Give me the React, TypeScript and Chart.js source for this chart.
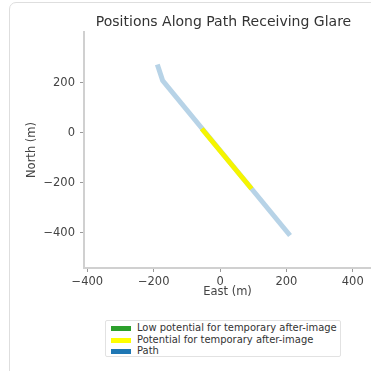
import React, { useEffect, useRef } from "react";
import { Chart, registerables } from "chart.js";

Chart.register(...registerables);

const TITLE = "Positions Along Path Receiving Glare";
const X_LABEL = "East (m)";
const Y_LABEL = "North (m)";

const pathEast = [-189, -173, 211];
const pathNorth = [273, 209, -411];
const glareEast = [-55, 95];
const glareNorth = [16, -224];
const lowEast: number[] = [];
const lowNorth: number[] = [];

const legendLabels = [
  "Low potential for temporary after-image",
  "Potential for temporary after-image",
  "Path",
];
const legendColors = ["#2ca02c", "#ffff00", "#1f77b4"];

const xTicks = [-400, -200, 0, 200, 400];
const yTicks = [-400, -200, 0, 200];

const FONT = "'DejaVu Sans', sans-serif";

const toPts = (xs: number[], ys: number[]) => xs.map((x, i) => ({ x, y: ys[i] }));
const fmt = (v: any) => String(v).replace("-", "\u2212");

const titlePlugin = {
  id: "customTitle",
  afterDraw(chart: any) {
    const ctx = chart.ctx;
    ctx.save();
    ctx.font = `14px ${FONT}`;
    ctx.fillStyle = "#333";
    ctx.textAlign = "center";
    ctx.textBaseline = "middle";
    ctx.fillText(TITLE, 223.5, 22.5);
    ctx.restore();
  },
};

export default function App() {
  const ref = useRef<HTMLCanvasElement | null>(null);
  useEffect(() => {
    if (!ref.current) return;
    const chart = new Chart(ref.current, {
      type: "scatter",
      data: {
        datasets: [
          {
            label: legendLabels[0],
            data: toPts(lowEast, lowNorth),
            showLine: true,
            borderColor: legendColors[0],
            borderWidth: 5,
            pointRadius: 0,
          },
          {
            label: legendLabels[1],
            data: toPts(glareEast, glareNorth),
            showLine: true,
            borderColor: "#f5f500",
            borderWidth: 5,
            pointRadius: 0,
          },
          {
            label: legendLabels[2],
            data: toPts(pathEast, pathNorth),
            showLine: true,
            borderColor: "rgba(31,119,180,0.32)",
            borderWidth: 5,
            pointRadius: 0,
          },
        ],
      },
      options: {
        responsive: false,
        animation: false,
        layout: { padding: { top: 32, left: 0, right: 0, bottom: 0 } },
        plugins: { legend: { display: false }, tooltip: { enabled: false }, title: { display: false } },
        scales: {
          x: {
            type: "linear",
            min: -410,
            max: 455,
            afterBuildTicks: (s: any) => {
              s.ticks = xTicks.map((v) => ({ value: v }));
            },
            afterFit: (s: any) => {
              s.height = 36;
            },
            border: { display: true, color: "#d0d0d0", width: 2 },
            grid: { drawOnChartArea: false, drawTicks: true, tickLength: 4, tickColor: "#999", tickWidth: 1 },
            ticks: { color: "#444", font: { family: FONT, size: 11.5 }, padding: 3, maxRotation: 0, callback: fmt },
            title: { display: true, text: X_LABEL, color: "#444", font: { family: FONT, size: 11.5 }, padding: { top: 0, bottom: 5 } },
          },
          y: {
            type: "linear",
            min: -541,
            max: 403,
            afterBuildTicks: (s: any) => {
              s.ticks = yTicks.map((v) => ({ value: v }));
            },
            afterFit: (s: any) => {
              s.width = 84;
            },
            border: { display: true, color: "#d0d0d0", width: 2 },
            grid: { drawOnChartArea: false, drawTicks: true, tickLength: 4, tickColor: "#999", tickWidth: 1 },
            ticks: { color: "#444", font: { family: FONT, size: 11.5 }, padding: 5, callback: fmt },
            title: { display: true, text: Y_LABEL, color: "#444", font: { family: FONT, size: 11.5 }, padding: { top: 25, bottom: 0 } },
          },
        },
      },
      plugins: [titlePlugin],
    });
    return () => chart.destroy();
  }, []);

  return (
    <div style={{ position: "fixed", left: 0, top: 0, width: 371, height: 371, overflow: "hidden", background: "#fff" }}>
      <div
        style={{
          position: "absolute",
          left: 9,
          top: 2,
          width: 400,
          height: 400,
          border: "1.5px solid #dedede",
          borderRadius: 7,
          boxSizing: "border-box",
        }}
      />
      <canvas ref={ref} width={371} height={304} style={{ position: "absolute", left: 0, top: 0, width: 371, height: 304 }} />
      <div
        style={{
          position: "absolute",
          left: 105,
          top: 320,
          width: 236,
          height: 37,
          border: "1px solid #e2e2e2",
          borderRadius: 2,
          boxSizing: "border-box",
          fontFamily: FONT,
          fontSize: 9.95,
          color: "#333",
        }}
      >
        {legendLabels.map((lab, i) => (
          <div key={lab} style={{ position: "absolute", left: 0, top: 1 + i * 11.7, height: 12, width: "100%" }}>
            <span
              style={{
                position: "absolute",
                left: 5,
                top: 4,
                width: 20,
                height: 5,
                background: legendColors[i],
              }}
            />
            <span style={{ position: "absolute", left: 31, top: 0, lineHeight: "12px", whiteSpace: "nowrap" }}>{lab}</span>
          </div>
        ))}
      </div>
    </div>
  );
}
